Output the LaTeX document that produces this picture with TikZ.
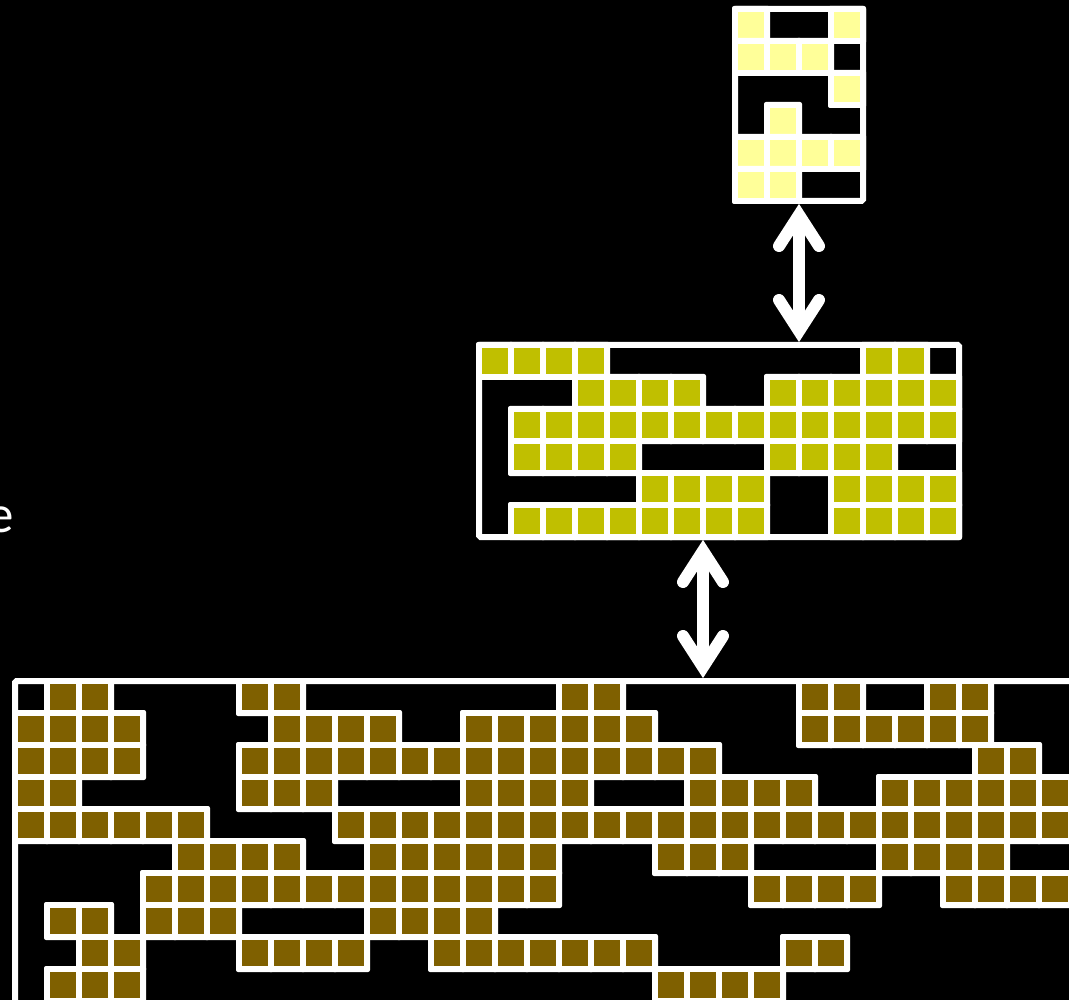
\documentclass[tikz,border=0pt]{standalone}
\usepackage{fontspec}
\newfontfamily\carlito{Carlito}
\usetikzlibrary{calc}
\definecolor{topfill}{RGB}{255,255,153}
\definecolor{midfill}{RGB}{192,191,0}
\definecolor{botfill}{RGB}{127,96,0}
\tikzset{
  gridframe/.style={draw=white, line width=6pt, rounded corners=1.5pt, inner sep=0pt, outer sep=3pt, rectangle},
  cellborder/.style={fill=white, rounded corners=2pt},
  arrowline/.style={draw=white, line width=12pt},
  arrowhead/.style={draw=white, line width=12pt, line cap=round, line join=miter},
}
% #1 x0, #2 y0, #3 row, #4 colour, #5 list of filled columns
\newcommand\cellrow[5]{%
  \foreach \c in {#5} {
    \fill[cellborder] ({#1+32*\c-6},{#2+32*#3-6}) rectangle ++(38,38);
    \fill[#4] ({#1+32*\c},{#2+32*#3}) rectangle ++(26,26);
  }}
% double arrow between two named coordinates (#1 upper tip, #2 lower tip)
\newcommand\dblarrow[2]{%
  \draw[arrowline] ($(#1)+(0,11)$) -- ($(#2)+(0,-11)$);
  \draw[arrowhead] ($(#1)+(-20,42)$) -- ($(#1)+(0,11)$) -- ($(#1)+(20,42)$);
  \draw[arrowhead] ($(#2)+(-20,-42)$) -- ($(#2)+(0,-11)$) -- ($(#2)+(20,-42)$);
}
\begin{document}
\begin{tikzpicture}[x=1pt,y=-1pt]
\useasboundingbox (0,0) rectangle (1069,1000);
\clip (0,0) rectangle (1069,1000);
\fill[black] (0,0) rectangle (1069,1000);

% grid frames
\node[gridframe, minimum width=128pt, minimum height=192pt] (topgrid) at (799,105) {};
\node[gridframe, minimum width=480pt, minimum height=192pt] (midgrid) at (719,441) {};
\node[gridframe, minimum width=1100pt, minimum height=400pt] (botgrid) at (565,881) {};

% top grid cells
\cellrow{738}{12}{0}{topfill}{0,3}
\cellrow{738}{12}{1}{topfill}{0,1,2}
\cellrow{738}{12}{2}{topfill}{3}
\cellrow{738}{12}{3}{topfill}{1}
\cellrow{738}{12}{4}{topfill}{0,1,2,3}
\cellrow{738}{12}{5}{topfill}{0,1}

% middle grid cells
\cellrow{482}{348}{0}{midfill}{0,1,2,3,12,13}
\cellrow{482}{348}{1}{midfill}{3,4,5,6,9,10,11,12,13,14}
\cellrow{482}{348}{2}{midfill}{1,2,3,4,5,6,7,8,9,10,11,12,13,14}
\cellrow{482}{348}{3}{midfill}{1,2,3,4,9,10,11,12}
\cellrow{482}{348}{4}{midfill}{5,6,7,8,11,12,13,14}
\cellrow{482}{348}{5}{midfill}{1,2,3,4,5,6,7,8,11,12,13,14}

% bottom grid cells
\cellrow{18}{684}{0}{botfill}{1,2,7,8,17,18,24.5,25.5,28.5,29.5}
\cellrow{18}{684}{1}{botfill}{0,1,2,3,8,9,10,11,14,15,16,17,18,19,24.5,25.5,26.5,27.5,28.5,29.5}
\cellrow{18}{684}{2}{botfill}{0,1,2,3,7,8,9,10,11,12,13,14,15,16,17,18,19,20,21,30,31}
\cellrow{18}{684}{3}{botfill}{0,1,7,8,9,14,15,16,17,21,22,23,24,27,28,29,30,31,32}
\cellrow{18}{684}{4}{botfill}{0,1,2,3,4,5,10,11,12,13,14,15,16,17,18,19,20,21,22,23,24,25,26,27,28,29,30,31,32}
\cellrow{18}{684}{5}{botfill}{5,6,7,8,11,12,13,14,15,16,20,21,22,27,28,29,30}
\cellrow{18}{684}{6}{botfill}{4,5,6,7,8,9,10,11,12,13,14,15,16,23,24,25,26,29,30,31,32}
\cellrow{18}{684}{7}{botfill}{1,2,4,5,6,11,12,13,14}
\cellrow{18}{684}{8}{botfill}{2,3,7,8,9,10,13,14,15,16,17,18,19,24,25}
\cellrow{18}{684}{9}{botfill}{1,2,3,20,21,22,23}

% arrows
\coordinate (a1top) at (topgrid.south);
\coordinate (a1bot) at (topgrid.south |- midgrid.north);
\dblarrow{a1top}{a1bot}
\coordinate (a2top) at ($(midgrid.south)+(-16,0)$);
\coordinate (a2bot) at (a2top |- botgrid.north);
\dblarrow{a2top}{a2bot}

% clipped label at left edge
\node[anchor=base west, inner sep=0pt, text=white, font=\carlito\fontsize{53pt}{60pt}\selectfont] (lbl) at (-13,532) {e};
\end{tikzpicture}
\end{document}
